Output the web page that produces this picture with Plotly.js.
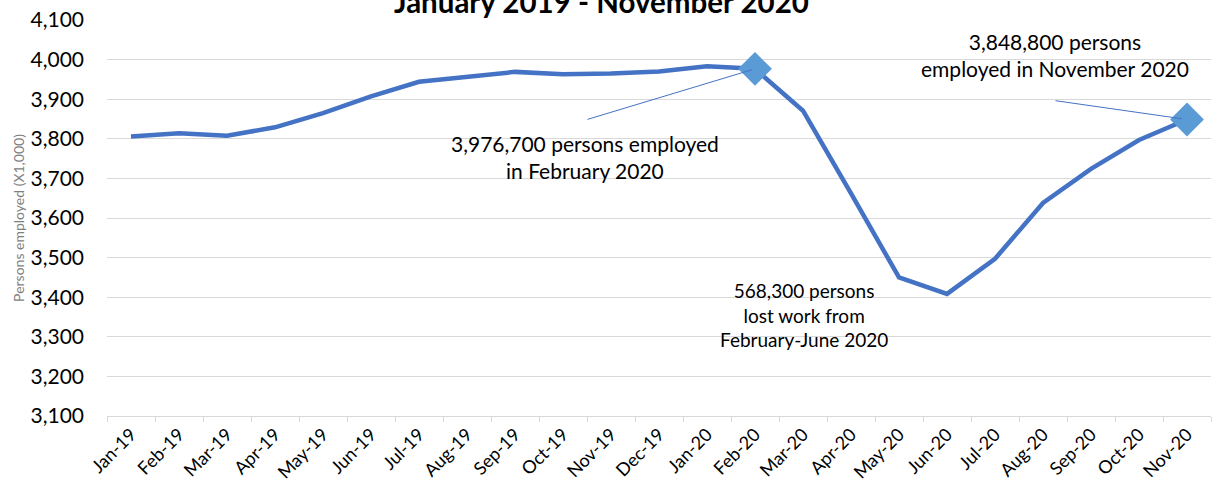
<!DOCTYPE html>
<html>
<head>
<meta charset="utf-8">
<script src="https://cdn.plot.ly/plotly-3.0.1.min.js"></script>
<style>html,body{margin:0;padding:0;background:#fff;}#chart{width:1218px;height:491px;}</style>
</head>
<body>
<div id="chart"></div>
<script>
const months = ["Jan-19","Feb-19","Mar-19","Apr-19","May-19","Jun-19","Jul-19","Aug-19","Sep-19","Oct-19","Nov-19","Dec-19",
  "Jan-20","Feb-20","Mar-20","Apr-20","May-20","Jun-20","Jul-20","Aug-20","Sep-20","Oct-20","Nov-20"];
const employed = [3806,3814,3808,3829,3865,3907,3944,3957,3969,3963,3965,3970,
  3983,3976.7,3871,3662,3450,3408.4,3497,3638,3724,3797,3848.8];
const highlightMonths = ["Feb-20","Nov-20"];
const highlightValues = [3976.7,3848.8];
const titleText = "January 2019 - November 2020";
const yTitle = "Persons employed (X1,000)";
const noteFeb = "3,976,700 persons employed<br>in February 2020";
const noteNov = "3,848,800 persons<br>employed in November 2020";
const noteLoss = "568,300 persons<br>lost work from<br>February-June 2020";

const font = "Lato, 'Open Sans', sans-serif";
const traces = [
  {x: months, y: employed, type: "scatter", mode: "lines",
   line: {color: "#4472C4", width: 4.5}, hoverinfo: "x+y"},
  {x: highlightMonths, y: highlightValues, type: "scatter", mode: "markers",
   marker: {symbol: "diamond", size: 26, color: "#5B9BD5"}, hoverinfo: "x+y"}
];
const layout = {
  width: 1218, height: 491,
  margin: {l: 107, r: 7, t: 20, b: 75},
  paper_bgcolor: "#fff", plot_bgcolor: "#fff",
  showlegend: false,
  font: {family: font, color: "#000"},
  xaxis: {type: "category", range: [-0.5, 22.5], tickson: "boundaries",
    ticks: "outside", ticklen: 5, tickcolor: "#d9d9d9", showgrid: false,
    showline: true, linecolor: "#d9d9d9", linewidth: 1,
    tickangle: -45, tickfont: {size: 18, family: font}, zeroline: false},
  yaxis: {range: [3100, 4100], dtick: 100, tickformat: ",", showgrid: true,
    gridcolor: "#d9d9d9", gridwidth: 1, zeroline: false, showline: false,
    tickfont: {size: 21, family: font}, ticks: "", ticklabelstandoff: 22,
    title: {text: yTitle, font: {size: 14, color: "#7f7f7f", family: font}, standoff: 2}},
  annotations: [
    {xref: "paper", yref: "paper", x: 0.448, y: 1.0, xanchor: "center", yanchor: "middle", yshift: 19,
     text: "<b>" + titleText + "</b>", showarrow: false, font: {size: 29.5, family: font}},
    {x: "Feb-20", y: 3976.7, xref: "x", yref: "y", text: "", showarrow: true,
     axref: "pixel", ayref: "pixel", ax: -169, ay: 51, arrowhead: 0, arrowwidth: 1,
     arrowcolor: "#4472C4", standoff: 3, startstandoff: 0},
    {x: "Nov-20", y: 3848.8, xref: "x", yref: "y", text: "", showarrow: true,
     axref: "pixel", ayref: "pixel", ax: -133, ay: -19, arrowhead: 0, arrowwidth: 1,
     arrowcolor: "#4472C4", standoff: 5, startstandoff: 0},
    {xref: "paper", yref: "paper", x: 0.433, y: 0.653, xanchor: "center", yanchor: "middle",
     text: noteFeb, showarrow: false, font: {size: 21, family: font}, align: "center"},
    {xref: "paper", yref: "paper", x: 0.859, y: 0.911, xanchor: "center", yanchor: "middle",
     text: noteNov, showarrow: false, font: {size: 21, family: font}, align: "center"},
    {xref: "paper", yref: "paper", x: 0.631, y: 0.256, xanchor: "center", yanchor: "middle",
     text: noteLoss, showarrow: false, font: {size: 19, family: font}, align: "center"}
  ]
};
Plotly.newPlot("chart", traces, layout, {displayModeBar: false, staticPlot: true});
</script>
</body>
</html>
